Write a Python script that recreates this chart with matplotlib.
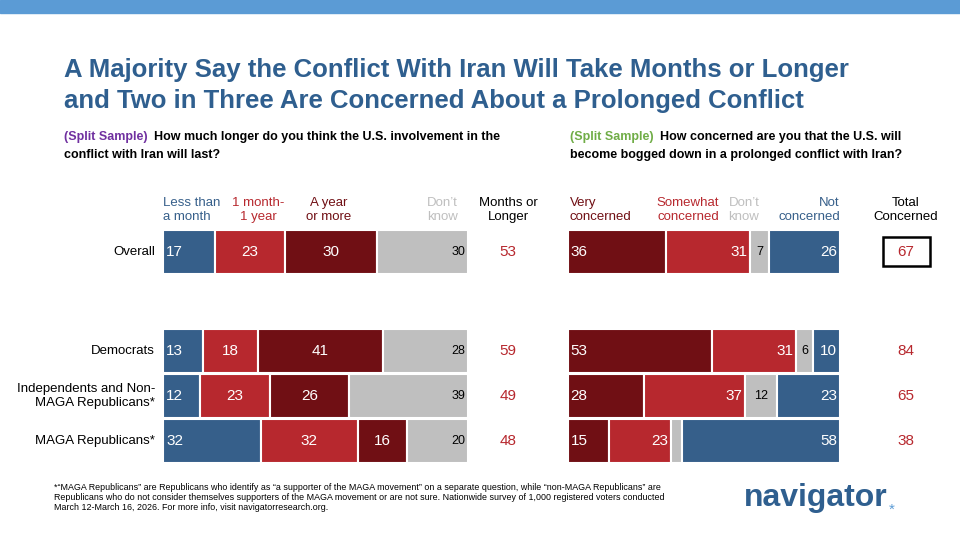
import matplotlib
matplotlib.use("Agg")
import matplotlib.pyplot as plt
from matplotlib.patches import Rectangle

plt.rcParams['font.family'] = ['Liberation Sans', 'DejaVu Sans']

groups = ["Overall", "Democrats", "Independents and Non-\nMAGA Republicans*", "MAGA Republicans*"]
left_series = ["Less than\na month", "1 month-\n1 year", "A year\nor more", "Don\u2019t\nknow"]
less_month = [17, 13, 12, 32]
month_year = [23, 18, 23, 32]
year_more = [30, 41, 26, 16]
dk_left = [30, 28, 39, 20]
months_longer = [53, 59, 49, 48]

right_series = ["Very\nconcerned", "Somewhat\nconcerned", "Don\u2019t\nknow", "Not\nconcerned"]
very = [36, 53, 28, 15]
somewhat = [31, 31, 37, 23]
dk_right = [7, 6, 12, 4]
not_conc = [26, 10, 23, 58]
total_conc = [67, 84, 65, 38]

BLUE = "#365F8A"; RED = "#B7282E"; DRED = "#700F14"; GRAY = "#BFBFBF"
TITLE = "#2F5F8F"
W, H = 960, 540
fig = plt.figure(figsize=(9.6, 5.4), dpi=100)
fig.patch.set_facecolor("white")

def px(x, y):
    return x / W, 1 - y / H

fig.patches.append(Rectangle((0, 1 - 13 / H), 1, 13 / H, transform=fig.transFigure, color="#5B9BD5"))

fig.text(*px(64, 70), "A Majority Say the Conflict With Iran Will Take Months or Longer",
         fontsize=18.5, fontweight="bold", color=TITLE, va="center")
fig.text(*px(64, 101), "and Two in Three Are Concerned About a Prolonged Conflict",
         fontsize=18.5, fontweight="bold", color=TITLE, va="center")

qs = 9
fig.text(*px(64, 137), "(Split Sample)", fontsize=qs, fontweight="bold", color="#7030A0", va="center")
fig.text(*px(154, 137), "How much longer do you think the U.S. involvement in the",
         fontsize=qs, fontweight="bold", color="black", va="center")
fig.text(*px(64, 155), "conflict with Iran will last?", fontsize=qs, fontweight="bold", color="black", va="center")
fig.text(*px(570, 137), "(Split Sample)", fontsize=qs, fontweight="bold", color="#70AD47", va="center")
fig.text(*px(660, 137), "How concerned are you that the U.S. will",
         fontsize=qs, fontweight="bold", color="black", va="center")
fig.text(*px(570, 155), "become bogged down in a prolonged conflict with Iran?",
         fontsize=qs, fontweight="bold", color="black", va="center")

row_y = [252, 351, 396, 441]
bar_h = 44

def make_ax(x0, x1):
    ax = fig.add_axes([x0 / W, 0, (x1 - x0) / W, 1])
    ax.set_xlim(0, 100)
    ax.set_ylim(H, 0)
    ax.axis("off")
    return ax

axl = make_ax(163, 468)
axr = make_ax(568, 840)

def draw(ax, series_vals, colors, label_pos, txtcols):
    for i, y in enumerate(row_y):
        left = 0
        for k, vals in enumerate(series_vals):
            v = vals[i]
            ax.barh(y, v, left=left, height=bar_h, color=colors[k], edgecolor="white", linewidth=1.5)
            if v >= 5:
                pos = label_pos[k]
                white = txtcols[k] == "white"
                fs = 11 if white else 9
                if pos == "l":
                    ax.text(left + 1, y, str(v), ha="left", va="center", color=txtcols[k], fontsize=fs)
                elif pos == "r":
                    ax.text(left + v - 1, y, str(v), ha="right", va="center", color=txtcols[k], fontsize=fs)
                else:
                    ax.text(left + v / 2, y, str(v), ha="center", va="center", color=txtcols[k], fontsize=fs)
            left += v

draw(axl, [less_month, month_year, year_more, dk_left], [BLUE, RED, DRED, GRAY],
     ["l", "c", "c", "r"], ["white", "white", "white", "black"])
draw(axr, [very, somewhat, dk_right, not_conc], [DRED, RED, GRAY, BLUE],
     ["l", "r", "c", "r"], ["white", "white", "black", "white"])

hs = 9.5
ls = 1.2
hl = [(163, "left", BLUE), (258, "center", RED), (329, "center", DRED), (458, "right", GRAY)]
for (x, ha, c), s in zip(hl, left_series):
    fig.text(*px(x, 210), s, ha=ha, va="center", fontsize=hs, color=c, linespacing=ls)
fig.text(*px(508, 210), "Months or\nLonger", ha="center", va="center", fontsize=hs, color="black", linespacing=ls)
hr = [(570, "left", DRED), (688, "center", RED), (744, "center", GRAY), (840, "right", BLUE)]
for (x, ha, c), s in zip(hr, right_series):
    fig.text(*px(x, 210), s, ha=ha, va="center", fontsize=hs, color=c, linespacing=ls)
fig.text(*px(906, 210), "Total\nConcerned", ha="center", va="center", fontsize=hs, color="black", linespacing=ls)

for i, y in enumerate(row_y):
    fig.text(*px(155, y), groups[i], ha="right", va="center", fontsize=9.5, color="black", linespacing=1.15)
    fig.text(*px(508, y), str(months_longer[i]), ha="center", va="center", fontsize=11, color=RED)
    fig.text(*px(906, y), str(total_conc[i]), ha="center", va="center", fontsize=11, color=RED)

fig.patches.append(Rectangle((883 / W, 1 - 266 / H), 47 / W, 29 / H, transform=fig.transFigure,
                             fill=False, edgecolor="black", linewidth=1.8))

fig.text(*px(54, 483), "*\u201cMAGA Republicans\u201d are Republicans who identify as \u201ca supporter of the MAGA movement\u201d on a separate question, while \u201cnon-MAGA Republicans\u201d are\n"
         "Republicans who do not consider themselves supporters of the MAGA movement or are not sure. Nationwide survey of 1,000 registered voters conducted\n"
         "March 12-March 16, 2026. For more info, visit navigatorresearch.org.",
         ha="left", va="top", fontsize=6.4, color="black", linespacing=1.15)
fig.text(*px(744, 498), "navigator", ha="left", va="center", fontsize=23, fontweight="bold", color="#2F5F8F")
fig.text(*px(889, 510), "*", ha="left", va="center", fontsize=11, color="#5B9BD5")

fig.savefig("out.png", dpi=100)
